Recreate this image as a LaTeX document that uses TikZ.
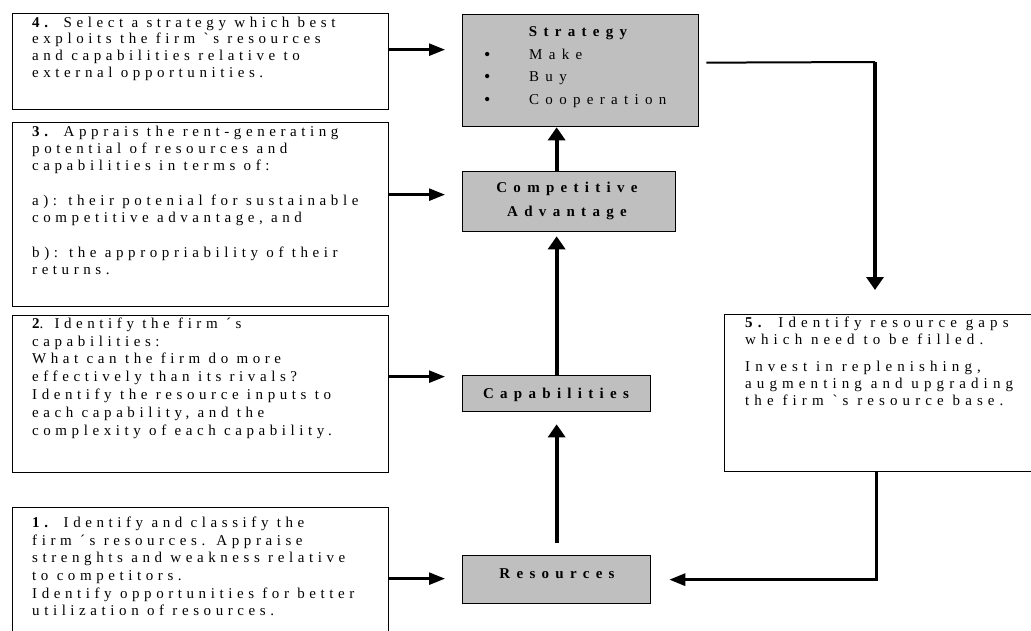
\documentclass[tikz,border=0pt]{standalone}
\usepackage{fontspec}
\setmainfont{Liberation Serif}
\newfontfamily\stepfont[LetterSpace=30.5]{Liberation Serif}
\newfontfamily\gapfont[LetterSpace=34]{Liberation Serif}
\newfontfamily\corefont[LetterSpace=42]{Liberation Serif}
\usetikzlibrary{arrows.meta}
\newcommand{\gr}{\symbol{"0060}}
\newcommand{\bulletmark}{\makebox[45pt][l]{\raisebox{-0.8pt}{\fontsize{18}{18}\selectfont•}}}

\begin{document}
\begin{tikzpicture}[x=1pt,y=-1pt,
  stepbox/.style={draw, line width=1.3pt, inner sep=0pt, anchor=north west, fill=white},
  corebox/.style={stepbox, fill=black!25},
  % multi-line texts hang from the top of their first line
  steptext/.style={anchor=north west, inner sep=0pt, align=left,
    font=\stepfont\fontsize{15}{17.6}\selectfont},
  gaptext/.style={anchor=north west, inner sep=0pt, align=left,
    font=\gapfont\fontsize{15}{17}\selectfont},
  coretext/.style={anchor=base, inner sep=0pt, align=center,
    font=\corefont\bfseries\fontsize{15}{24}\selectfont},
  listtext/.style={anchor=north west, inner sep=0pt, align=left,
    font=\corefont\fontsize{15}{22.3}\selectfont},
  harrow/.style={line width=2.6pt, -{Triangle[length=16pt,width=12pt]}},
  varrow/.style={line width=3.8pt, -{Triangle[length=13pt,width=17pt]}},
]
\useasboundingbox (0,0) rectangle (1031,630);

% step boxes on the left
\node[stepbox, minimum width=376pt, minimum height=96pt]  (b4) at (12,13) {};
\node[stepbox, minimum width=376pt, minimum height=184pt] (b3) at (12,122) {};
\node[stepbox, minimum width=376pt, minimum height=157pt] (b2) at (12,315) {};
\node[stepbox, minimum width=376pt, minimum height=142pt] (b1) at (12,507) {};

% shaded core boxes
\node[corebox, minimum width=236pt, minimum height=112pt] (strat) at (462,14) {};
\node[corebox, minimum width=213pt, minimum height=60pt]  (comp)  at (462,171) {};
\node[corebox, minimum width=188pt, minimum height=36pt]  (cap)   at (462,375) {};
\node[corebox, minimum width=188pt, minimum height=48pt]  (res)   at (462,555) {};

% step 5 on the right
\node[stepbox, minimum width=330pt, minimum height=157pt] (b5) at (724,314) {};

% texts
\node[steptext, font=\stepfont\fontsize{15}{16.7}\selectfont] (t4) at (32,16.5)
  {\textbf{4.} Select a strategy which best\\
  exploits the firm \gr s resources\\
  and capabilities relative to\\
  external opportunities.};
\node[steptext, font=\stepfont\fontsize{15}{17.3}\selectfont] (t3) at (32,125.5)
  {\textbf{3.} Apprais the rent-generating\\
  potential of resources and\\
  capabilities in terms of:\\[17.3pt]
  a): their potenial for sustainable\\
  competitive advantage, and\\[17.3pt]
  b): the appropriability of their\\
  returns.};
\node[steptext, font=\stepfont\fontsize{15}{17.8}\selectfont] (t2) at (32,317.5)
  {\textbf{2}. Identify the firm ´s\\
  capabilities:\\
  What can the firm do more\\
  effectively than its rivals?\\
  Identify the resource inputs to\\
  each capability, and the\\
  complexity of each capability.};
\node[steptext] (t1) at (32,517) {\textbf{1.} Identify and classify the\\
  firm ´s resources. Appraise\\
  strenghts and weakness relative\\
  to competitors.\\
  Identify opportunities for better\\
  utilization of resources.};
\node[gaptext] (t5) at (745,316.5) {\textbf{5.} Identify resource gaps\\
  which need to be filled.\\[10pt]
  Invest in replenishing,\\
  augmenting and upgrading\\
  the firm \gr s resource base.};

\node[coretext] (tstrat) at (578,36) {Strategy};
\node[listtext] (tlist) at (484,49) {\bulletmark Make\\
  \bulletmark Buy\\
  \bulletmark Cooperation};
\node[coretext] (tcomp) at (567,216) {Competitive\\Advantage};
\node[coretext] (tcap) at (556,398) {Capabilities};
\node[coretext] (tres) at (557,578) {Resources};

% arrows from the steps into the core boxes
\draw[harrow, shorten >=17pt] ([yshift=12pt]b4.east) coordinate (s4) -- (s4 -| strat.west);
\draw[harrow, shorten >=17pt] ([yshift=20pt]b3.east) coordinate (s3) -- (s3 -| comp.west);
\draw[harrow, shorten >=17pt] ([yshift=17.5pt]b2.east) coordinate (s2) -- (s2 -| cap.west);
\draw[harrow, shorten >=17pt] (b1.east) -- (b1.east -| res.west);

% upward chain
\draw[varrow, shorten <=12pt, shorten >=12pt] (res.north) -- (cap.south);
\draw[varrow, shorten >=4pt] (cap.north) -- (cap.north |- comp.south);
\draw[varrow] (cap.north |- comp.north) -- (cap.north |- strat.south);

% feedback loop through step 5
\coordinate (turn) at (875,62);
\draw[line width=2pt] ([xshift=7pt,yshift=8pt]strat.east) -- (turn);
\draw[varrow, shorten >=24pt] (turn) -- (turn |- b5.north);
\draw[harrow, line width=3pt, shorten >=18pt] ([xshift=1pt]turn |- b5.south)
  -- ([xshift=1pt]turn |- res.east) -- (res.east);
\end{tikzpicture}
\end{document}
